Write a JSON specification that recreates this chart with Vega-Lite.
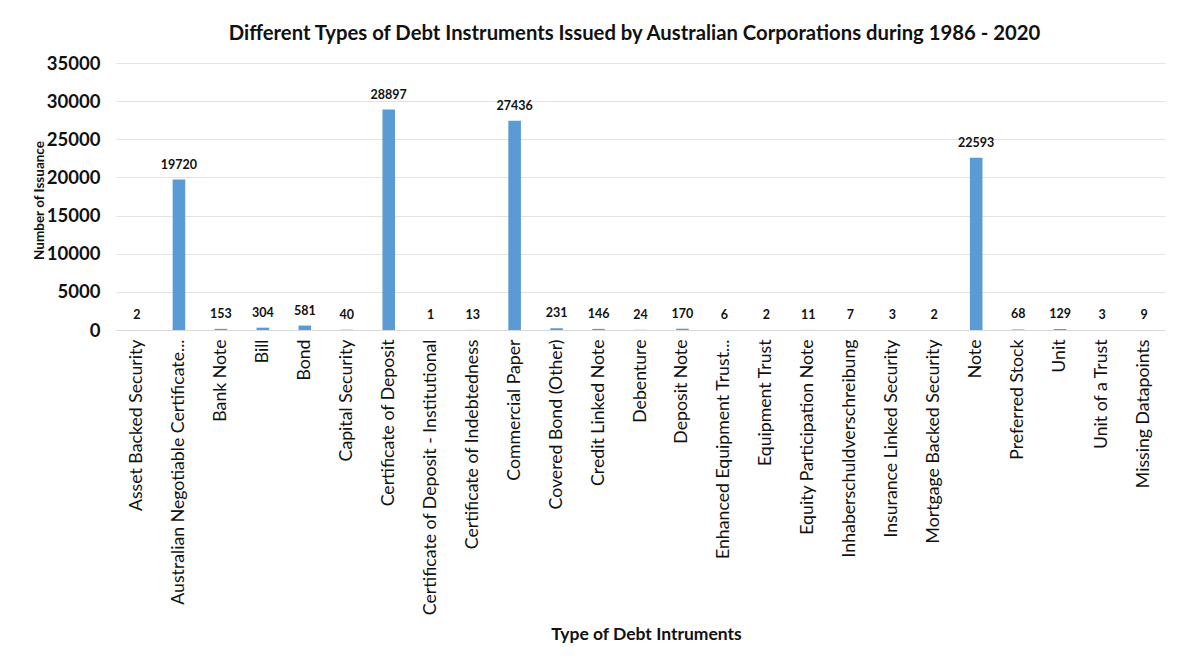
{
  "$schema": "https://vega.github.io/schema/vega-lite/v6.json",
  "autosize": {"type": "none"},
  "width": 1049,
  "height": 267,
  "padding": {"left": 116, "top": 63, "right": 13, "bottom": 334},
  "background": "white",
  "config": {
    "view": {"stroke": null},
    "font": "Lato"
  },
  "title": {
    "text": "Different Types of Debt Instruments Issued by Australian Corporations during 1986 - 2020",
    "font": "Lato",
    "fontSize": 20.3,
    "fontWeight": "bold",
    "color": "#111111",
    "anchor": "middle",
    "offset": 10,
    "dx": -6
  },
  "data": {
    "values": [
      {"type": "Asset Backed Security", "count": 2},
      {"type": "Australian Negotiable Certificate...", "count": 19720},
      {"type": "Bank Note", "count": 153},
      {"type": "Bill", "count": 304},
      {"type": "Bond", "count": 581},
      {"type": "Capital Security", "count": 40},
      {"type": "Certificate of Deposit", "count": 28897},
      {"type": "Certificate of Deposit - Institutional", "count": 1},
      {"type": "Certificate of Indebtedness", "count": 13},
      {"type": "Commercial Paper", "count": 27436},
      {"type": "Covered Bond (Other)", "count": 231},
      {"type": "Credit Linked Note", "count": 146},
      {"type": "Debenture", "count": 24},
      {"type": "Deposit Note", "count": 170},
      {"type": "Enhanced Equipment Trust...", "count": 6},
      {"type": "Equipment Trust", "count": 2},
      {"type": "Equity Participation Note", "count": 11},
      {"type": "Inhaberschuldverschreibung", "count": 7},
      {"type": "Insurance Linked Security", "count": 3},
      {"type": "Mortgage Backed Security", "count": 2},
      {"type": "Note", "count": 22593},
      {"type": "Preferred Stock", "count": 68},
      {"type": "Unit", "count": 129},
      {"type": "Unit of a Trust", "count": 3},
      {"type": "Missing Datapoints", "count": 9}
    ]
  },
  "encoding": {
    "x": {
      "field": "type",
      "type": "nominal",
      "sort": null,
      "scale": {"paddingInner": 0.7, "paddingOuter": 0.35},
      "axis": {
        "title": "Type of Debt Intruments",
        "titleFont": "Lato",
        "titleFontSize": 17.5,
        "titleFontWeight": "bold",
        "titleColor": "#111111",
        "titleY": 304,
        "titleBaseline": "middle",
        "titleX": 530,
        "labelAngle": 270,
        "labelFont": "Lato",
        "labelFontSize": 17.7,
        "labelColor": "#111111",
        "labelPadding": 9,
        "labelLimit": 400,
        "ticks": false,
        "domain": true,
        "domainColor": "#d9d9d9",
        "domainWidth": 1.2
      }
    },
    "y": {
      "field": "count",
      "type": "quantitative",
      "scale": {"domain": [0, 35000], "nice": false},
      "axis": {
        "title": "Number of Issuance",
        "titleFont": "Lato",
        "titleFontSize": 13.5,
        "titleFontWeight": "bold",
        "titleColor": "#111111",
        "titleX": -77,
        "titleY": 137,
        "titleAngle": 270,
        "titleBaseline": "middle",
        "values": [0, 5000, 10000, 15000, 20000, 25000, 30000, 35000],
        "format": "d",
        "labelFont": "Lato",
        "labelFontSize": 18.5,
        "labelFontWeight": "bold",
        "labelColor": "#111111",
        "labelPadding": 16,
        "ticks": false,
        "domain": false,
        "grid": true,
        "gridColor": "#e3e3e3",
        "gridWidth": 1.2
      }
    }
  },
  "layer": [
    {
      "mark": {"type": "bar", "color": "#5b9bd5"}
    },
    {
      "mark": {
        "type": "text",
        "dy": -8,
        "baseline": "bottom",
        "font": "Lato",
        "fontSize": 12.5,
        "fontWeight": "bold",
        "color": "#111111"
      },
      "encoding": {
        "text": {"field": "count", "type": "quantitative", "format": "d"}
      }
    }
  ]
}
